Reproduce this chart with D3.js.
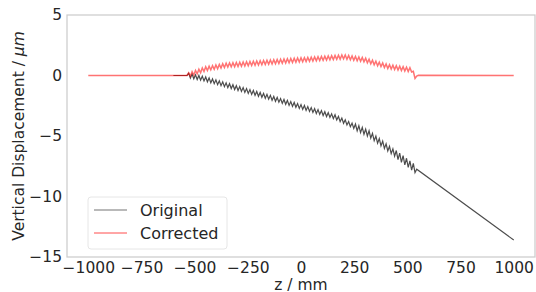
<!DOCTYPE html>
<html>
<head>
<meta charset="utf-8">
<script src="https://cdn.jsdelivr.net/npm/d3@7"></script>
<style>
  body { margin: 0; background: #fff; }
  text { font-family: "DejaVu Sans", sans-serif; fill: #262626; }
</style>
</head>
<body>
<div id="plot"></div>
<script>
// sample positions along z (mm) of the wavy part, both series share them
const zWave = [
  -528, -520, -512, -504, -496, -488, -480, -472, -464, -456,
  -448, -440, -432, -424, -416, -408, -400, -392, -384, -376,
  -368, -360, -352, -344, -336, -328, -320, -312, -304, -296,
  -288, -280, -272, -264, -256, -248, -240, -232, -224, -216,
  -208, -200, -192, -184, -176, -168, -160, -152, -144, -136,
  -128, -120, -112, -104, -96, -88, -80, -72, -64, -56,
  -48, -40, -32, -24, -16, -8, 0, 8, 16, 24,
  32, 40, 48, 56, 64, 72, 80, 88, 96, 104,
  112, 120, 128, 136, 144, 152, 160, 168, 176, 184,
  192, 200, 208, 216, 224, 232, 240, 248, 256, 264,
  272, 280, 288, 296, 304, 312, 320, 328, 336, 344,
  352, 360, 368, 376, 384, 392, 400, 408, 416, 424,
  432, 440, 448, 456, 464, 472, 480, 488, 496, 504,
  512, 520, 528, 536
];

const originalWave = [
  0.18, -0.21, 0.12, -0.27, 0.06, -0.33, 0.00, -0.39, -0.06, -0.45,
  -0.12, -0.52, -0.20, -0.60, -0.28, -0.68, -0.36, -0.76, -0.44, -0.84,
  -0.52, -0.92, -0.60, -1.00, -0.68, -1.08, -0.76, -1.16, -0.84, -1.24,
  -0.92, -1.32, -1.00, -1.40, -1.08, -1.48, -1.16, -1.56, -1.24, -1.64,
  -1.32, -1.72, -1.40, -1.80, -1.48, -1.88, -1.56, -1.96, -1.64, -2.05,
  -1.73, -2.13, -1.81, -2.21, -1.90, -2.30, -1.98, -2.38, -2.06, -2.47,
  -2.15, -2.55, -2.23, -2.63, -2.32, -2.72, -2.40, -2.80, -2.48, -2.89,
  -2.57, -2.97, -2.65, -3.05, -2.74, -3.14, -2.82, -3.22, -2.90, -3.31,
  -2.99, -3.39, -3.07, -3.47, -3.16, -3.56, -3.24, -3.67, -3.38, -3.81,
  -3.52, -3.95, -3.66, -4.09, -3.80, -4.23, -3.94, -4.37, -4.01, -4.58,
  -4.15, -4.72, -4.29, -4.86, -4.43, -5.00, -4.57, -5.18, -4.78, -5.39,
  -5.00, -5.60, -5.21, -5.82, -5.42, -6.03, -5.64, -6.24, -5.85, -6.46,
  -6.06, -6.67, -6.20, -6.96, -6.41, -7.18, -6.62, -7.39, -6.84, -7.60,
  -7.05, -7.82, -7.26, -8.03
];

const correctedWave = [
  0.22, -0.07, 0.32, 0.03, 0.42, 0.13, 0.52, 0.23, 0.62, 0.33,
  0.72, 0.41, 0.77, 0.46, 0.82, 0.51, 0.87, 0.56, 0.92, 0.61,
  0.97, 0.66, 1.02, 0.69, 1.04, 0.71, 1.06, 0.73, 1.08, 0.75,
  1.10, 0.77, 1.12, 0.79, 1.14, 0.81, 1.16, 0.83, 1.18, 0.85,
  1.20, 0.87, 1.22, 0.89, 1.24, 0.91, 1.26, 0.93, 1.28, 0.95,
  1.30, 0.97, 1.32, 0.99, 1.34, 1.01, 1.36, 1.03, 1.38, 1.05,
  1.40, 1.07, 1.42, 1.09, 1.44, 1.11, 1.46, 1.13, 1.48, 1.15,
  1.50, 1.17, 1.52, 1.19, 1.54, 1.21, 1.56, 1.23, 1.58, 1.25,
  1.60, 1.27, 1.62, 1.29, 1.64, 1.31, 1.66, 1.33, 1.68, 1.35,
  1.70, 1.37, 1.69, 1.33, 1.65, 1.29, 1.61, 1.25, 1.57, 1.21,
  1.53, 1.17, 1.49, 1.13, 1.43, 1.05, 1.35, 0.97, 1.27, 0.89,
  1.19, 0.81, 1.11, 0.73, 1.03, 0.65, 0.95, 0.57, 0.89, 0.53,
  0.85, 0.49, 0.81, 0.45, 0.77, 0.41, 0.73, 0.37, 0.69, 0.33,
  0.65, 0.29, 0.35, -0.25
];

// flat / straight parts outside the wavy section
const originalHeadZ = [-600, -536];
const originalHead = [0, 0];
const originalTailZ = [544, 1000];
const originalTail = [-7.75, -13.6];
const correctedHeadZ = [-1000, -536];
const correctedHead = [0, 0];
const correctedTailZ = [544, 552, 1000];
const correctedTail = [-0.05, 0.02, 0.0];

const xTicks = [-1000, -750, -500, -250, 0, 250, 500, 750, 1000];
const yTicks = [5, 0, -5, -10, -15];
const seriesNames = ["Original", "Corrected"];

const w = 536;
const h = 292;
const margin = {top: 15, right: 1, bottom: 35, left: 67};
const innerWidth = w - margin.left - margin.right;
const innerHeight = h - margin.top - margin.bottom;
const fontSize = 15.5;

const svg = d3.select("div#plot")
    .append("svg")
    .attr("width", w)
    .attr("height", h);

const xScale = d3.scaleLinear()
    .domain([-1100, 1100])
    .range([0, innerWidth]);

const yScale = d3.scaleLinear()
    .domain([-15, 5])
    .range([innerHeight, 0]);

const g = svg.append("g")
    .attr("transform", `translate(${margin.left}, ${margin.top})`);

const pairs = (zs, vs) => zs.map((z, i) => [z, vs[i]]);

const original = pairs(originalHeadZ, originalHead)
    .concat(pairs(zWave, originalWave))
    .concat(pairs(originalTailZ, originalTail));
const corrected = pairs(correctedHeadZ, correctedHead)
    .concat(pairs(zWave, correctedWave))
    .concat(pairs(correctedTailZ, correctedTail));

const line = d3.line()
    .x(d => xScale(d[0]))
    .y(d => yScale(d[1]));

g.append("path")
    .datum(original)
    .attr("d", line)
    .attr("fill", "none")
    .attr("stroke", "#000")
    .attr("stroke-opacity", 0.7)
    .attr("stroke-width", 1.2);

g.append("path")
    .datum(corrected)
    .attr("d", line)
    .attr("fill", "none")
    .attr("stroke", "#ff0000")
    .attr("stroke-opacity", 0.55)
    .attr("stroke-width", 1.5);

// spines
g.append("rect")
    .attr("x", 0)
    .attr("y", 0)
    .attr("width", innerWidth)
    .attr("height", innerHeight)
    .attr("fill", "none")
    .attr("stroke", "#cccccc")
    .attr("stroke-width", 1.25);

const xAxis = d3.axisBottom(xScale)
    .tickValues(xTicks)
    .tickFormat(d3.format("d"))
    .tickSize(0)
    .tickPadding(5);

const yAxis = d3.axisLeft(yScale)
    .tickValues(yTicks)
    .tickFormat(d3.format("d"))
    .tickSize(0)
    .tickPadding(5);

g.append("g")
    .attr("transform", `translate(0, ${innerHeight})`)
    .call(xAxis)
    .call(a => a.select(".domain").remove())
    .selectAll("text")
    .attr("font-size", fontSize)
    .attr("font-family", "DejaVu Sans")
    .attr("fill", "#262626");

g.append("g")
    .call(yAxis)
    .call(a => a.select(".domain").remove())
    .selectAll("text")
    .attr("font-size", fontSize)
    .attr("font-family", "DejaVu Sans")
    .attr("fill", "#262626");

svg.append("text")
    .attr("x", margin.left + innerWidth / 2)
    .attr("y", 290)
    .attr("text-anchor", "middle")
    .attr("font-size", fontSize)
    .text("z / mm");

const yLabel = svg.append("text")
    .attr("transform", `translate(24, ${margin.top + innerHeight / 2}) rotate(-90)`)
    .attr("text-anchor", "middle")
    .attr("font-size", fontSize);
yLabel.append("tspan").text("Vertical Displacement / ");
yLabel.append("tspan").attr("font-style", "italic").text("\u03bcm");

// legend
const legend = svg.append("g")
    .attr("transform", "translate(88, 197)");

legend.append("rect")
    .attr("width", 139)
    .attr("height", 52)
    .attr("rx", 3)
    .attr("fill", "rgba(255,255,255,0.8)")
    .attr("stroke", "#e6e6e6");

seriesNames.forEach((name, i) => {
  legend.append("line")
      .attr("x1", 6)
      .attr("x2", 39)
      .attr("y1", 13 + i * 23)
      .attr("y2", 13 + i * 23)
      .attr("stroke", i === 0 ? "rgba(0,0,0,0.55)" : "rgba(255,0,0,0.7)")
      .attr("stroke-width", 1);
  legend.append("text")
      .attr("x", 52)
      .attr("y", 18.5 + i * 23)
      .attr("font-size", 16)
      .text(name);
});
</script>
</body>
</html>
